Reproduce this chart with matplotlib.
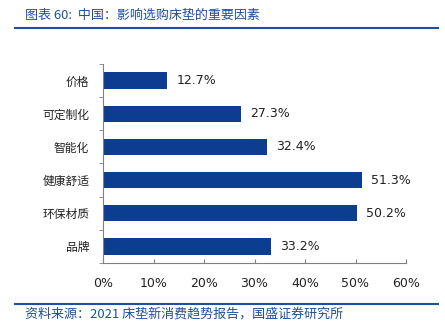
import matplotlib
matplotlib.use("Agg")
import matplotlib.pyplot as plt
import numpy as np

plt.rcParams['font.family'] = ['Noto Sans CJK SC', 'DejaVu Sans']

categories = ["价格", "可定制化", "智能化", "健康舒适", "环保材质", "品牌"]
values = [12.7, 27.3, 32.4, 51.3, 50.2, 33.2]
xticks = [0, 10, 20, 30, 40, 50, 60]
title = "图表 60:  中国：影响选购床垫的重要因素"
source = "资料来源：2021 床垫新消费趋势报告，国盛证券研究所"

bar_color = "#0B3E91"
blue = "#1F4FA0"
gray = "#808080"

fig = plt.figure(figsize=(4.45, 3.33), dpi=100)
ax = fig.add_axes([103/445, 1-263/333, (406-103)/445, (263-64)/333])

y = np.arange(len(categories))
ax.barh(y, values, height=0.49, color=bar_color)
ax.set_ylim(len(categories)-0.5, -0.5)
ax.set_xlim(0, 60)
for yi, v in zip(y, values):
    ax.text(v + 1.8, yi, f"{v:.1f}%", va='center', ha='left', fontsize=9, color='#222222',
            family=['DejaVu Sans'])

ax.set_yticks(y)
ax.set_yticklabels(categories, fontsize=8.5, color='#222222')
ax.set_yticks(np.arange(len(categories)+1) - 0.5, minor=True)
ax.tick_params(axis='y', which='major', length=0, pad=10)
ax.tick_params(axis='y', which='minor', length=3, color=gray, direction='out')
ax.set_xticks(xticks)
ax.set_xticklabels([f"{t}%" for t in xticks], fontsize=9, color='#222222', family=['DejaVu Sans'])
ax.tick_params(axis='x', length=3, color=gray, direction='in', pad=10)
for s in ['top', 'right']:
    ax.spines[s].set_visible(False)
for s in ['left', 'bottom']:
    ax.spines[s].set_color(gray)
    ax.spines[s].set_linewidth(0.8)

fig.text(25/445, 1-15/333, title, fontsize=9.4, color=blue, va='center', ha='left', style='italic')
fig.add_artist(plt.Line2D([15/445, 438/445], [1-28/333, 1-28/333], color=blue, lw=1.5))
fig.add_artist(plt.Line2D([15/445, 438/445], [1-304/333, 1-304/333], color=blue, lw=1.5))
fig.text(25/445, 1-314/333, source, fontsize=9.4, color=blue, va='center', ha='left', style='italic')

fig.savefig("out.png", dpi=100)
